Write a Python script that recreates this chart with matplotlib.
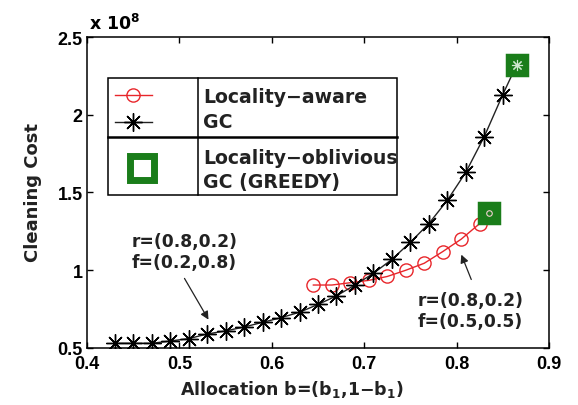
import matplotlib
matplotlib.use('Agg')
import matplotlib.pyplot as plt
from matplotlib.patches import Rectangle
from matplotlib.lines import Line2D

# data (cleaning cost in units of 1e8)
gc_x = [0.43, 0.45, 0.47, 0.49, 0.51, 0.53, 0.55, 0.57, 0.59, 0.61, 0.63, 0.65,
        0.67, 0.69, 0.71, 0.73, 0.75, 0.77, 0.79, 0.81, 0.83, 0.85, 0.865]
gc_y = [0.53, 0.53, 0.53, 0.545, 0.56, 0.59, 0.61, 0.635, 0.665, 0.695, 0.73, 0.78,
        0.835, 0.905, 0.98, 1.07, 1.18, 1.30, 1.45, 1.63, 1.86, 2.13, 2.32]
la_x = [0.645, 0.665, 0.685, 0.705, 0.725, 0.745, 0.765, 0.785, 0.805, 0.825, 0.835]
la_y = [0.905, 0.905, 0.92, 0.935, 0.96, 1.00, 1.045, 1.12, 1.20, 1.30, 1.365]
greedy_x = [0.835, 0.865]
greedy_y = [1.365, 2.32]

legend_labels = ['Locality\u2212aware', 'GC', 'Locality\u2212oblivious', 'GC (GREEDY)']

red = '#e8262b'
green = '#1a7d1a'
txt_font = 'DejaVu Sans'
tick_font = 'Liberation Sans'
plt.rcParams['mathtext.fontset'] = 'dejavusans'

fig = plt.figure(figsize=(5.78, 4.06), dpi=100)
ax = fig.add_axes([0.1505, 0.1404, 0.7993, 0.766])

ax.plot(la_x, la_y, '-', color=red, lw=1.0, marker='o', ms=9.5,
        mfc='none', mec=red, mew=1.0, zorder=3)
ax.plot(gc_x, gc_y, '-', color='#222222', lw=1.0, marker=(8, 2, 0), ms=13,
        mec='black', mew=1.0, zorder=4)
ax.plot(greedy_x, greedy_y, ls='none', marker='s', ms=14, mfc=green, mec=green,
        mew=2.5, zorder=5)
# faint marks showing through the squares
ax.plot(greedy_x[1:], greedy_y[1:], ls='none', marker=(8, 2, 0), ms=8,
        mec='#cfe8cf', mew=0.8, zorder=6)
ax.plot(greedy_x[:1], greedy_y[:1], ls='none', marker='o', ms=4,
        mfc='none', mec='#f0d0d0', mew=0.8, zorder=6)

ax.set_xlim(0.4, 0.9)
ax.set_ylim(0.5, 2.5)
ax.set_xticks([0.4, 0.5, 0.6, 0.7, 0.8, 0.9])
ax.set_yticks([0.5, 1, 1.5, 2, 2.5])
ax.set_xticklabels(['0.4', '0.5', '0.6', '0.7', '0.8', '0.9'])
ax.set_yticklabels(['0.5', '1', '1.5', '2', '2.5'])
ax.tick_params(direction='in', length=4, width=1, top=True, right=True,
               labelsize=13)
ax.tick_params(axis='x', pad=5)
ax.tick_params(axis='y', pad=3)
for lab in ax.get_xticklabels() + ax.get_yticklabels():
    lab.set_family(tick_font)
    lab.set_weight('bold')
for sp in ax.spines.values():
    sp.set_linewidth(1.1)

# axis labels placed like the MATLAB original
fig.text(0.057, 0.527, 'Cleaning Cost', rotation=90, ha='center', va='center',
         fontsize=13, fontweight='bold', family=txt_font, color='#222222')
fig.text(0.505, 0.040, r'Allocation b=(b$_\mathbf{1}$,1$\mathbf{-}$b$_\mathbf{1}$)',
         ha='center', va='center', fontsize=12.5, fontweight='bold',
         family=txt_font, color='#222222')
ax.text(0.005, 1.012, r'x 10$^\mathbf{8}$', transform=ax.transAxes,
        fontsize=12.5, fontweight='bold', family=txt_font, ha='left', va='bottom')

# annotations
ax.text(0.5055, 1.12, 'r=(0.8,0.2)\nf=(0.2,0.8)', ha='center', va='center',
        fontsize=12.3, fontweight='bold', family=txt_font, linespacing=1.25,
        color='#222222')
ax.annotate('', xy=(0.533, 0.667), xytext=(0.504, 0.963),
            arrowprops=dict(arrowstyle='-|>', color='#222222', lw=0.9,
                            mutation_scale=12))
ax.text(0.815, 0.741, 'r=(0.8,0.2)\nf=(0.5,0.5)', ha='center', va='center',
        fontsize=12.3, fontweight='bold', family=txt_font, linespacing=1.25,
        color='#222222')
ax.annotate('', xy=(0.804, 1.117), xytext=(0.817, 0.924),
            arrowprops=dict(arrowstyle='-|>', color='#222222', lw=0.9,
                            mutation_scale=12))

# hand-drawn legend box in MATLAB style
tr = ax.transAxes
ax.add_patch(Rectangle((0.0455, 0.492), 0.6255, 0.376, transform=tr,
                       facecolor='white', edgecolor='black', lw=1.1, zorder=7))
ax.add_line(Line2D([0.240, 0.240], [0.492, 0.868], transform=tr, color='black',
                   lw=1.1, zorder=8))
ax.add_line(Line2D([0.0455, 0.671], [0.678, 0.678], transform=tr, color='black',
                   lw=1.8, zorder=8))
ax.add_line(Line2D([0.0606, 0.1407], [0.8145, 0.8145], transform=tr, color=red,
                   lw=1.0, zorder=8))
ax.add_line(Line2D([0.0996], [0.8145], transform=tr, marker='o', ms=9.5,
                   mfc='none', mec=red, mew=1.0, zorder=9))
ax.add_line(Line2D([0.0606, 0.1407], [0.7267, 0.7267], transform=tr,
                   color='#222222', lw=1.0, zorder=8))
ax.add_line(Line2D([0.0996], [0.7267], transform=tr, marker=(8, 2, 0), ms=13,
                   mec='black', mew=1.0, zorder=9))
ax.add_line(Line2D([0.119], [0.579], transform=tr, marker='s', ms=17,
                   mfc='white', mec=green, mew=5, zorder=9))
for lab, yy in zip(legend_labels, [0.790, 0.7097, 0.594, 0.5167]):
    ax.text(0.251, yy, lab, transform=tr, fontsize=13.6, fontweight='bold',
            family=txt_font, ha='left', va='baseline', color='#222222', zorder=10)

plt.savefig('out.png', dpi=100)
plt.close()
